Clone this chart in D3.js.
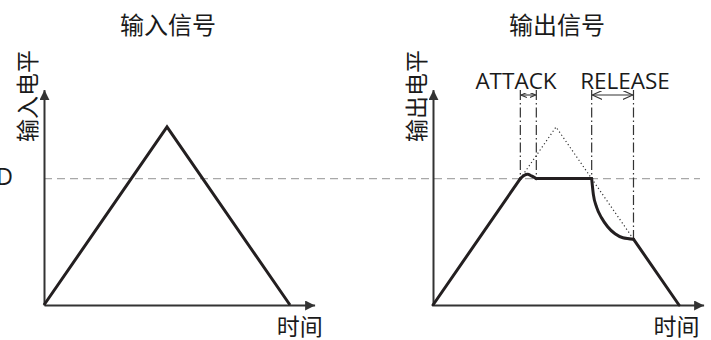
<!DOCTYPE html>
<html><head><meta charset="utf-8">
<script src="https://cdn.jsdelivr.net/npm/d3@7"></script>
<style>body{margin:0;background:#fff}svg{display:block}</style>
</head><body>
<svg id="c" width="711" height="340"></svg>
<script>
// ---- data ----
const panelTitles = ["输入信号", "输出信号"];
const yLabels = ["输入电平", "输出电平"];
const xLabel = "时间";
const xLabelTimes = [10.4, 9.9];
const thresholdLabel = "THRESHOLD";
const threshold = 0.71;
const inputTimes = [0, 5, 10];
const inputLevels = [0, 1, 0];
const riseTimes = [0, 3.55];
const riseLevels = [0, 0.71];
const bumpTimes = [3.55, 3.7, 3.85, 4.0, 4.2];
const bumpLevels = [0.71, 0.728, 0.735, 0.725, 0.71];
const flatTimes = [4.2, 6.45];
const flatLevels = [0.71, 0.71];
const releaseTimes = [6.45, 6.52, 6.65, 6.85, 7.1, 7.4, 7.72, 8.15];
const releaseLevels = [0.71, 0.62, 0.55, 0.49, 0.44, 0.40, 0.378, 0.37];
const fallTimes = [8.15, 10];
const fallLevels = [0.37, 0];
const attackTimes = [3.55, 4.2];
const releaseSpan = [6.45, 8.15];
const markerNames = ["ATTACK", "RELEASE"];
const axisMax = [11, 1.21];

// ---- layout ----
const svg = d3.select("#c");
const origins = [44, 433];
const y = d3.scaleLinear().domain([0, 1]).range([305, 127]);
const makeX = ox => d3.scaleLinear().domain([0, 10]).range([ox, ox + 246]);
const ink = "#231f20";
const zip = (a, b) => a.map((v, i) => [v, b[i]]);

const defs = svg.append("defs");
defs.append("marker").attr("id", "ah").attr("viewBox", "0 0 10 10")
  .attr("refX", 10).attr("refY", 5).attr("markerWidth", 10).attr("markerHeight", 10)
  .attr("markerUnits", "userSpaceOnUse").attr("orient", "auto")
  .append("path").attr("d", "M0,0L10,5L0,10Z").attr("fill", "#333");
function vHead(id, len, hw) {
  defs.append("marker").attr("id", id).attr("viewBox", `0 0 ${len} ${hw*2}`)
    .attr("refX", len).attr("refY", hw).attr("markerWidth", len).attr("markerHeight", hw*2)
    .attr("markerUnits", "userSpaceOnUse").attr("orient", "auto-start-reverse")
    .append("path").attr("d", `M0,0L${len},${hw}L0,${hw*2}`).attr("fill", "none")
    .attr("stroke", "#333").attr("stroke-width", 1.1);
}
vHead("vs", 6, 2.5);
vHead("vl", 10, 4.5);

// threshold dashed line across both panels
svg.append("line").attr("x1", origins[0]).attr("x2", 700)
  .attr("y1", y(threshold)).attr("y2", y(threshold))
  .attr("stroke", "#a8a8a8").attr("stroke-width", 1.3).attr("stroke-dasharray", "8,5");

svg.append("text").attr("x", 13).attr("y", y(threshold) + 6)
  .attr("text-anchor", "end").attr("font-family", "Open Sans").attr("font-size", 23)
  .attr("fill", "#1a1a1a").text(thresholdLabel);

origins.forEach((ox, i) => {
  const x = makeX(ox);
  const g = svg.append("g");
  const xa = d3.scaleLinear().domain([0, axisMax[0]]).range([x(0), x(axisMax[0])]);
  const ya = d3.scaleLinear().domain([0, axisMax[1]]).range([y(0), y(axisMax[1])]);
  const gx = g.append("g").attr("transform", `translate(0,${y(0)})`)
    .call(d3.axisBottom(xa).tickValues([]).tickSizeOuter(0));
  const gy = g.append("g").attr("transform", `translate(${x(0)},0)`)
    .call(d3.axisLeft(ya).tickValues([]).tickSizeOuter(0));
  [gx, gy].forEach(a => a.select(".domain").attr("stroke", "#333").attr("stroke-width", 2)
    .attr("marker-end", "url(#ah)"));

  g.append("text").attr("x", x(5) + 1).attr("y", 34).attr("text-anchor", "middle")
    .attr("font-family", "Noto Sans CJK SC").attr("font-size", 24).attr("fill", "#1a1a1a")
    .text(panelTitles[i]);
  g.append("text").attr("transform", `translate(${x(0) - 18},96) rotate(-90)`)
    .attr("text-anchor", "middle").attr("dominant-baseline", "central")
    .attr("font-family", "Noto Sans CJK SC").attr("font-size", 23).attr("fill", "#1a1a1a")
    .text(yLabels[i]);
  g.append("text").attr("x", x(xLabelTimes[i])).attr("y", 325).attr("text-anchor", "middle")
    .attr("dominant-baseline", "central")
    .attr("font-family", "Noto Sans CJK SC").attr("font-size", 23).attr("fill", "#1a1a1a")
    .text(xLabel);

  if (i === 0) {
    g.append("path").datum(zip(inputTimes, inputLevels))
      .attr("d", d3.line().x(d => x(d[0])).y(d => y(d[1])))
      .attr("fill", "none").attr("stroke", ink).attr("stroke-width", 3).attr("stroke-linejoin", "miter");
  } else {
    // dotted original input above threshold
    const dotted = [[attackTimes[0], threshold], [inputTimes[1], inputLevels[1]], [releaseSpan[1], fallLevels[0]]];
    g.append("path").datum(dotted).attr("d", d3.line().x(d => x(d[0])).y(d => y(d[1])))
      .attr("fill", "none").attr("stroke", "#333").attr("stroke-width", 1.2)
      .attr("stroke-dasharray", "1.2,2.6");

    // vertical dash-dot guides
    const guides = [[attackTimes[0], 0.735], [attackTimes[1], threshold], [releaseSpan[0], threshold], [releaseSpan[1], fallLevels[0]]];
    guides.forEach(([t, lv]) => {
      g.append("line").attr("x1", x(t)).attr("x2", x(t)).attr("y1", 90).attr("y2", y(lv) + 1)
        .attr("stroke", "#333").attr("stroke-width", 1.2).attr("stroke-dasharray", "10,3,1.5,3");
    });

    // output signal segments
    const segs = [
      [zip(riseTimes, riseLevels), d3.curveLinear],
      [zip(bumpTimes, bumpLevels), d3.curveMonotoneX],
      [zip(flatTimes, flatLevels), d3.curveLinear],
      [zip(releaseTimes, releaseLevels), d3.curveMonotoneX],
      [zip(fallTimes, fallLevels), d3.curveLinear]
    ];
    segs.forEach(([pts, cv]) => {
      g.append("path").datum(pts)
        .attr("d", d3.line().x(d => x(d[0])).y(d => y(d[1])).curve(cv))
        .attr("fill", "none").attr("stroke", ink).attr("stroke-width", 3)
        .attr("stroke-linecap", "round").attr("stroke-linejoin", "round");
    });

    // dimension arrows and labels
    const spans = [attackTimes, releaseSpan];
    spans.forEach((sp, k) => {
      g.append("line").attr("x1", x(sp[0]) + 0.6).attr("x2", x(sp[1]) - 0.6)
        .attr("y1", 95).attr("y2", 95).attr("stroke", "#333").attr("stroke-width", 1.1)
        .attr("marker-start", `url(#${k ? "vl" : "vs"})`).attr("marker-end", `url(#${k ? "vl" : "vs"})`);
    });
    g.append("text").attr("x", 516).attr("y", 89).attr("text-anchor", "middle")
      .attr("font-family", "Open Sans").attr("font-size", 22.5).attr("fill", "#1a1a1a").text(markerNames[0]);
    g.append("text").attr("x", 625).attr("y", 89).attr("text-anchor", "middle")
      .attr("font-family", "Open Sans").attr("font-size", 22.5).attr("fill", "#1a1a1a").text(markerNames[1]);
  }
});
</script>
</body></html>
